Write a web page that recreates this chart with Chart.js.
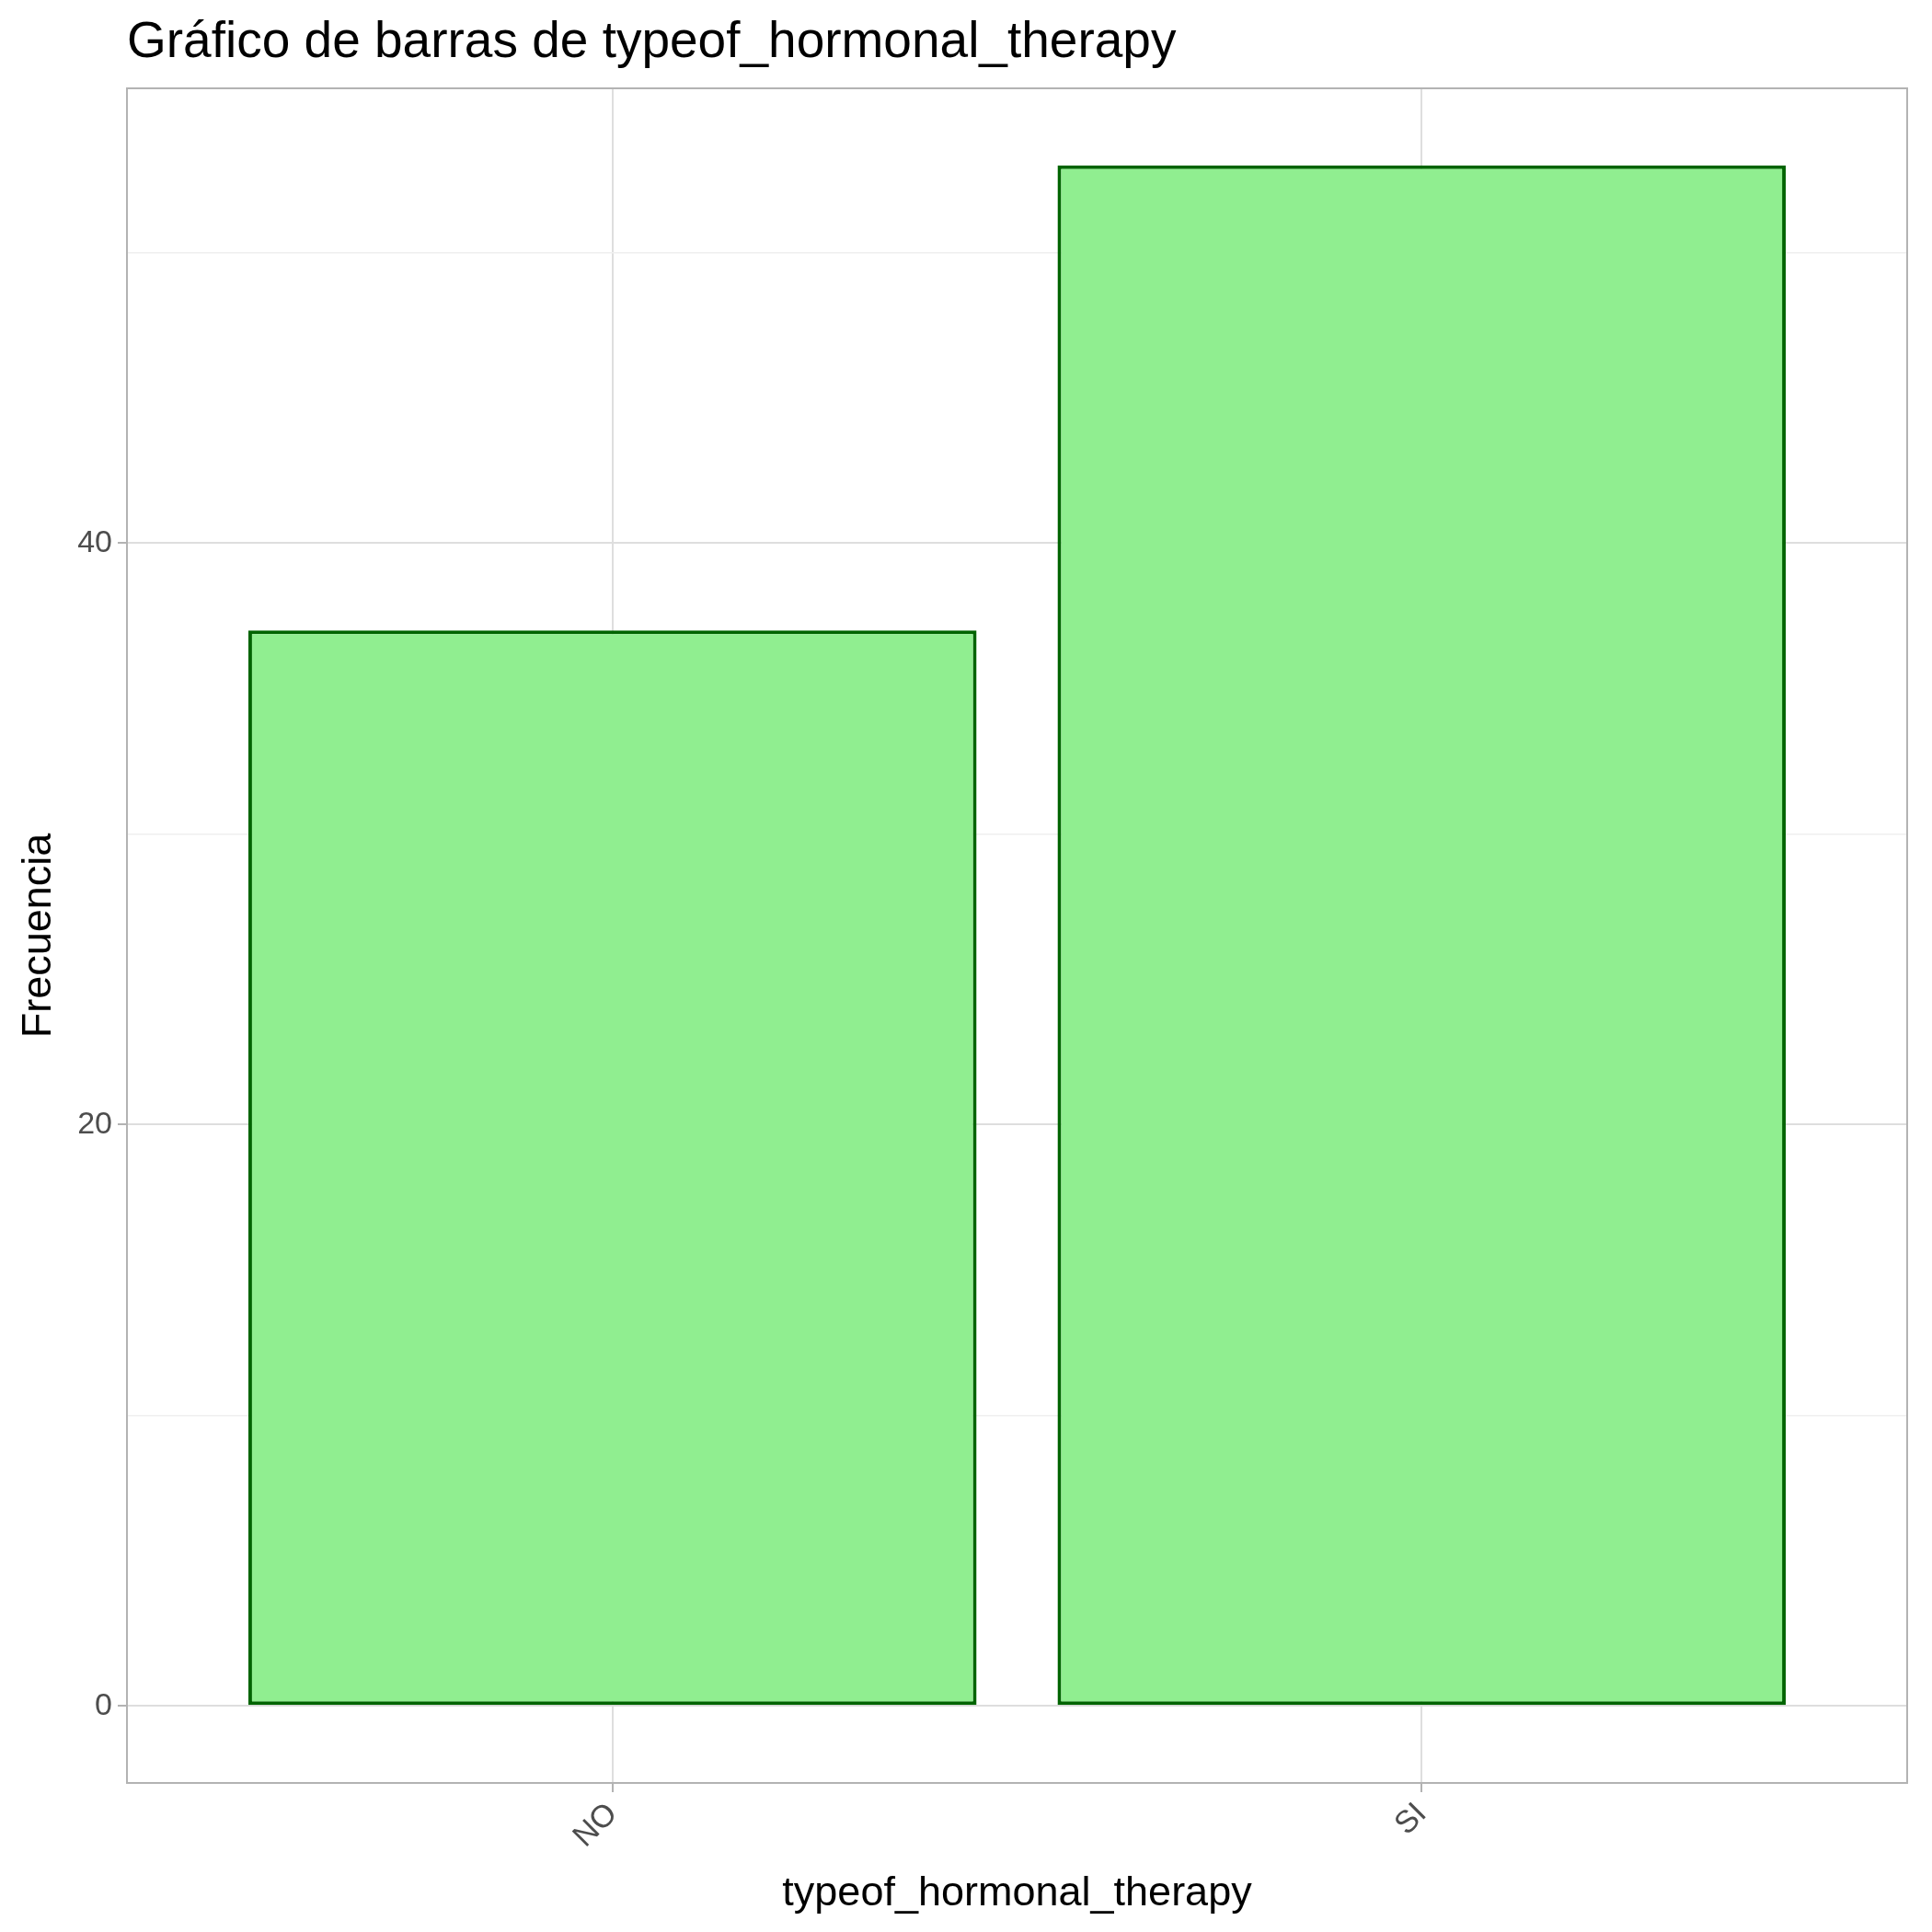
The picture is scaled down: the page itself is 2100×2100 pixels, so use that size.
<!DOCTYPE html>
<html>
<head>
<meta charset="utf-8">
<script src="https://cdn.jsdelivr.net/npm/chart.js@4.4.1/dist/chart.umd.min.js"></script>
<style>
  html, body { margin: 0; padding: 0; background: #fff; }
  #wrap { width: 2100px; height: 2100px; }
</style>
</head>
<body>
<div id="wrap"><canvas id="graph" width="2100" height="2100"></canvas></div>
<script>
const categories = ['NO', 'SI'];
const counts = [37, 53];
const yTicks = [0, 10, 20, 30, 40, 50];
const yLabelled = [0, 20, 40];

const titleText = 'Gráfico de barras de typeof_hormonal_therapy';
const fontName = '"Liberation Sans", Arial, sans-serif';

// panel border + title
const panelPlugin = {
    id: 'panel',
    afterDraw(chart) {
        const ctx = chart.ctx, a = chart.chartArea;
        ctx.save();
        ctx.strokeStyle = '#b3b3b3';
        ctx.lineWidth = 2;
        ctx.strokeRect(a.left, a.top, a.right - a.left, a.bottom - a.top);
        ctx.fillStyle = '#000';
        ctx.font = '55px ' + fontName;
        ctx.textBaseline = 'alphabetic';
        ctx.fillText(titleText, a.left, 62);
        ctx.restore();
    }
};

const graph = document.getElementById('graph').getContext('2d');
const barChart = new Chart(graph, {
    type: 'bar',
    data: {
        datasets: [{
            data: categories.map((c, i) => ({ x: i + 1, y: counts[i] })),
            backgroundColor: '#90EE90',
            borderColor: '#006400',
            borderWidth: 4,
            borderSkipped: false,
            categoryPercentage: 1,
            barPercentage: 0.9,
        }],
    },
    options: {
        responsive: false,
        animation: false,
        devicePixelRatio: 1,
        layout: { padding: { top: 96, right: 27, left: 0, bottom: 0 } },
        plugins: { legend: { display: false }, tooltip: { enabled: false } },
        scales: {
            x: {
                type: 'linear',
                offset: false,
                min: 0.4,
                max: 2.6,
                afterBuildTicks: s => { s.ticks = categories.map((c, i) => ({ value: i + 1 })); },
                afterFit: s => { s.height = 162; },
                ticks: {
                    callback: v => categories[v - 1],
                    minRotation: 45, maxRotation: 45,
                    color: '#4d4d4d',
                    font: { size: 34, family: fontName },
                    padding: 4,
                },
                grid: { offset: false, color: '#dedede', lineWidth: 2, tickLength: 10, tickColor: '#b3b3b3' },
                border: { display: false },
                title: {
                    display: true, text: 'typeof_hormonal_therapy',
                    color: '#000', font: { size: 45, family: fontName }, padding: { top: 0, bottom: 14 },
                },
            },
            y: {
                min: -2.65,
                max: 55.65,
                afterBuildTicks: s => { s.ticks = yTicks.map(v => ({ value: v })); },
                afterFit: s => { s.width = 138; },
                ticks: {
                    callback: v => yLabelled.includes(v) ? String(v) : '',
                    color: '#4d4d4d',
                    font: { size: 34, family: fontName },
                    padding: 6,
                },
                grid: {
                    color: c => yLabelled.includes(c.tick.value) ? '#dedede' : '#efefef',
                    lineWidth: c => yLabelled.includes(c.tick.value) ? 2 : 1.5,
                    tickLength: 10,
                    tickColor: c => yLabelled.includes(c.tick.value) ? '#b3b3b3' : 'rgba(0,0,0,0)',
                },
                border: { display: false },
                title: {
                    display: true, text: 'Frecuencia',
                    color: '#000', font: { size: 45, family: fontName }, padding: { top: 16, bottom: 14 },
                },
            },
        },
    },
    plugins: [panelPlugin],
});
</script>
</body>
</html>
